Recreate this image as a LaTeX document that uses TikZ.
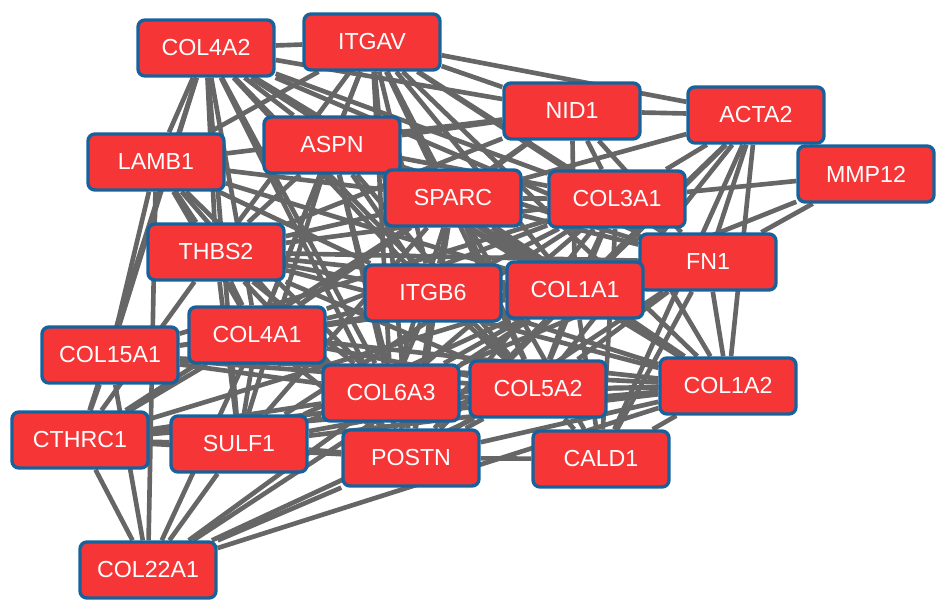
\documentclass[tikz,border=0pt]{standalone}
\usepackage{fontspec}
\setmainfont{Liberation Sans}
\usetikzlibrary{backgrounds}
\definecolor{genered}{RGB}{246,54,54}
\definecolor{geneblue}{RGB}{24,98,156}
\definecolor{linkgray}{RGB}{102,102,102}
\tikzset{
  gene/.style = {draw=geneblue, line width=2.4pt, fill=genered, rounded corners=5pt,
                 minimum width=3.4cm, minimum height=1.4cm, text=white,
                 font=\fontsize{16.5}{18}\selectfont},
  link/.style = {draw=linkgray, line width=3.3pt}
}

\begin{document}
\begin{tikzpicture}[x=0.025cm,y=-0.025cm]
  \useasboundingbox (0,0) rectangle (945,613);
  % genes
  \node[gene] (COL4A2)  at (206,48)  {COL4A2};
  \node[gene] (ITGAV)   at (372,42)  {ITGAV};
  \node[gene] (NID1)    at (572,111) {NID1};
  \node[gene] (ACTA2)   at (756,115) {ACTA2};
  \node[gene] (LAMB1)   at (156,162) {LAMB1};
  \node[gene] (ASPN)    at (332,145) {ASPN};
  \node[gene] (MMP12)   at (866,174) {MMP12};
  \node[gene] (SPARC)   at (453,198) {SPARC};
  \node[gene] (COL3A1)  at (617,199) {COL3A1};
  \node[gene] (THBS2)   at (216,252) {THBS2};
  \node[gene] (FN1)     at (708,262) {FN1};
  \node[gene] (ITGB6)   at (433,293) {ITGB6};
  \node[gene] (COL1A1)  at (575,290) {COL1A1};
  \node[gene] (COL4A1)  at (257,335) {COL4A1};
  \node[gene] (COL15A1) at (110,355) {COL15A1};
  \node[gene] (COL6A3)  at (391,393) {COL6A3};
  \node[gene] (COL5A2)  at (538,389) {COL5A2};
  \node[gene] (COL1A2)  at (728,386) {COL1A2};
  \node[gene] (CTHRC1)  at (80,440)  {CTHRC1};
  \node[gene] (SULF1)   at (239,444) {SULF1};
  \node[gene] (POSTN)   at (411,458) {POSTN};
  \node[gene] (CALD1)   at (601,459) {CALD1};
  \node[gene] (COL22A1) at (148,570) {COL22A1};
  % interactions
  \begin{pgfonlayer}{background}
    \foreach \a/\blist in {
      COL4A2/{ITGAV,LAMB1,ASPN,SPARC,NID1,COL3A1,THBS2,FN1,ITGB6,COL1A1,COL4A1,COL15A1,COL6A3,COL5A2,COL1A2,POSTN,SULF1,CTHRC1},
      ITGAV/{ASPN,NID1,SPARC,COL3A1,FN1,ITGB6,COL1A1,THBS2,LAMB1,COL4A1,COL6A3,COL5A2,COL1A2,POSTN,ACTA2},
      NID1/{ACTA2,COL3A1,SPARC,LAMB1,COL4A1,FN1,COL1A1,ASPN,THBS2},
      ACTA2/{MMP12,COL3A1,FN1,COL1A1,COL1A2,COL5A2,CALD1,SPARC,POSTN},
      MMP12/{COL3A1,FN1,COL1A1},
      LAMB1/{THBS2,COL4A1,SPARC,ITGB6,COL1A1,COL15A1,COL6A3,COL22A1,POSTN},
      ASPN/{SPARC,COL3A1,THBS2,ITGB6,COL1A1,COL4A1,COL6A3,COL5A2,COL1A2,POSTN,FN1,SULF1},
      SPARC/{COL3A1,THBS2,FN1,ITGB6,COL1A1,COL4A1,COL6A3,COL5A2,COL1A2,POSTN,CALD1,SULF1,CTHRC1},
      COL3A1/{THBS2,FN1,ITGB6,COL1A1,COL4A1,COL6A3,COL5A2,COL1A2,POSTN,CALD1,SULF1,COL15A1},
      THBS2/{FN1,ITGB6,COL1A1,COL4A1,COL6A3,COL5A2,COL1A2,POSTN,SULF1,CTHRC1},
      FN1/{ITGB6,COL1A1,COL1A2,COL5A2,COL6A3,POSTN,CALD1,COL4A1},
      ITGB6/{COL1A1,COL4A1,COL6A3,COL5A2,COL1A2,POSTN},
      COL1A1/{COL4A1,COL6A3,COL5A2,COL1A2,POSTN,CALD1,SULF1,CTHRC1,COL15A1,COL22A1},
      COL4A1/{COL15A1,COL6A3,COL5A2,COL1A2,POSTN,SULF1,CTHRC1,COL22A1},
      COL15A1/{COL6A3,COL5A2,COL1A2,COL22A1,CTHRC1},
      COL6A3/{COL5A2,COL1A2,POSTN,SULF1,CTHRC1,COL22A1},
      COL5A2/{COL1A2,POSTN,CALD1,SULF1,CTHRC1,COL22A1},
      COL1A2/{POSTN,CALD1,SULF1,CTHRC1,COL22A1},
      CTHRC1/{SULF1,COL22A1,POSTN},
      SULF1/{POSTN,COL22A1},
      POSTN/{COL22A1,CALD1}}
      \foreach \b in \blist
        \draw[link] (\a) -- (\b);
  \end{pgfonlayer}
\end{tikzpicture}
\end{document}
